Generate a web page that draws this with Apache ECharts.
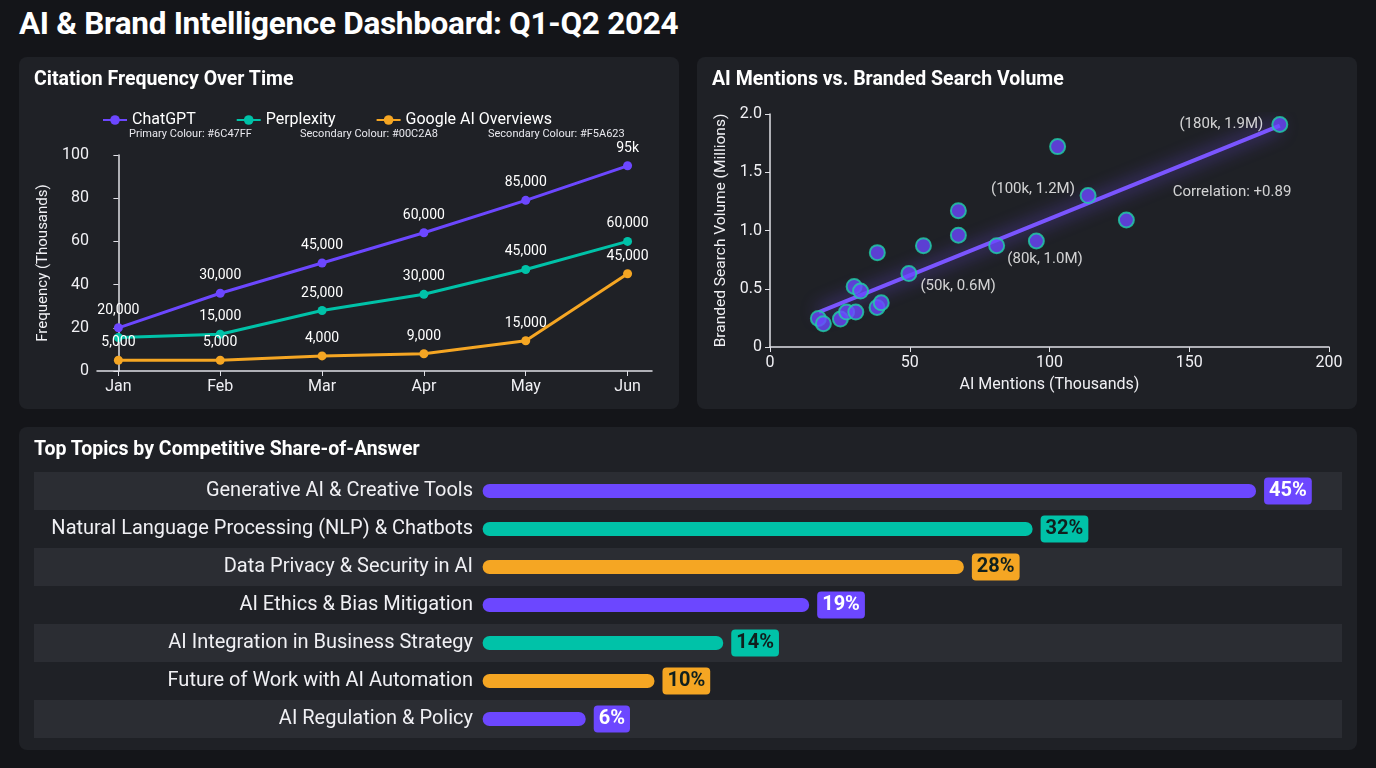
<!DOCTYPE html>
<html>
<head>
<meta charset="utf-8">
<script src="https://cdn.jsdelivr.net/npm/echarts@6/dist/echarts.min.js"></script>
<style>
  body { margin:0; width:1376px; height:768px; background:#141519; font-family:Roboto, sans-serif; color:#fff; position:relative; overflow:hidden; }
  h1 { position:absolute; left:19px; top:5px; margin:0; font-size:31.5px; font-weight:700; letter-spacing:-0.3px; }
  .panel { position:absolute; background:#1f2126; border-radius:8px; }
  .ptitle { position:absolute; left:15px; top:10px; font-size:19.5px; font-weight:700; z-index:2; }
  .chart { position:absolute; left:0; top:0; width:100%; height:100%; }
  .sub { position:absolute; font-size:11px; color:#e8e8ee; z-index:2; }
</style>
</head>
<body>
<h1>AI &amp; Brand Intelligence Dashboard: Q1-Q2 2024</h1>
<div class="panel" style="left:19px;top:57px;width:660px;height:352px;">
  <div class="ptitle">Citation Frequency Over Time</div>
  <div class="sub" style="left:110px;top:70px;">Primary Colour: #6C47FF</div>
  <div class="sub" style="left:281px;top:70px;">Secondary Colour: #00C2A8</div>
  <div class="sub" style="left:469px;top:70px;">Secondary Colour: #F5A623</div>
  <div id="lineChart" class="chart"></div>
</div>
<div class="panel" style="left:697px;top:57px;width:660px;height:352px;">
  <div class="ptitle">AI Mentions vs. Branded Search Volume</div>
  <div id="scatterChart" class="chart"></div>
</div>
<div class="panel" style="left:19px;top:427px;width:1338px;height:323px;">
  <div class="ptitle">Top Topics by Competitive Share-of-Answer</div>
  <div id="barChart" class="chart"></div>
</div>
<script>
// 折线图数据
var months = ['Jan', 'Feb', 'Mar', 'Apr', 'May', 'Jun'];
var chatgptValues = [20, 36, 50, 64, 79, 95];
var perplexityValues = [15.5, 17, 28, 35.5, 47, 60];
var googleValues = [5, 5, 7, 8, 14, 45];
var chatgptLabels = ['20,000', '30,000', '45,000', '60,000', '85,000', '95k'];
var perplexityLabels = ['', '15,000', '25,000', '30,000', '45,000', '60,000'];
var googleLabels = ['5,000', '5,000', '4,000', '9,000', '15,000', '45,000'];

// 散点图数据
var scatterPoints = [
  [17.3, 0.245], [19.1, 0.20], [25.2, 0.24], [27.4, 0.30], [30.7, 0.30],
  [30.1, 0.52], [32.4, 0.48], [38.3, 0.34], [39.8, 0.38], [38.4, 0.81],
  [49.7, 0.63], [54.9, 0.87], [67.4, 1.17], [67.4, 0.96], [81.1, 0.87],
  [95.3, 0.91], [102.9, 1.72], [113.8, 1.30], [127.5, 1.09], [182.4, 1.91]
];
var trendLine = [[17.5, 0.30], [182.4, 1.90]];
var annotations = [
  [161.5, 1.91, '(180k, 1.9M)'],
  [94.1, 1.35, '(100k, 1.2M)'],
  [98.4, 0.75, '(80k, 1.0M)'],
  [67.3, 0.52, '(50k, 0.6M)'],
  [165.3, 1.33, 'Correlation: +0.89']
];

// 条形图数据
var topics = [
  'Generative AI & Creative Tools',
  'Natural Language Processing (NLP) & Chatbots',
  'Data Privacy & Security in AI',
  'AI Ethics & Bias Mitigation',
  'AI Integration in Business Strategy',
  'Future of Work with AI Automation',
  'AI Regulation & Policy'
];
var shares = [45, 32, 28, 19, 14, 10, 6];

var PURPLE = '#6C47FF', TEAL = '#00C2A8', ORANGE = '#F5A623';
var axisText = { color: '#f0f0f4', fontSize: 16, fontFamily: 'Roboto' };

function lineSeries(name, values, labels, color) {
    return {
        name: name,
        type: 'line',
        data: values.map(function (v, i) {
            return { value: [i, v], label: { formatter: labels[i] } };
        }),
        symbol: 'circle',
        symbolSize: 9,
        itemStyle: { color: color },
        lineStyle: { width: 3, color: color },
        label: { show: true, position: 'top', color: '#fff', fontSize: 14, distance: 6 }
    };
}

var lineChart = echarts.init(document.getElementById('lineChart'));
lineChart.setOption({
    textStyle: { fontFamily: 'Roboto' },
    legend: {
        top: 50, left: 78, itemGap: 40, itemWidth: 24, itemHeight: 12,
        textStyle: { color: '#fff', fontSize: 16 },
        data: ['ChatGPT', 'Perplexity', 'Google AI Overviews']
    },
    grid: { left: 78, right: 27, top: 98, bottom: 38 },
    xAxis: {
        type: 'value', min: -0.21, max: 5.24,
        splitLine: { show: false },
        axisLine: { show: true, lineStyle: { color: '#e0e0e6', width: 1.5 } },
        axisTick: { show: true, customValues: [0, 1, 2, 3, 4, 5], lineStyle: { color: '#e0e0e6' } },
        axisLabel: Object.assign({ customValues: [0, 1, 2, 3, 4, 5], formatter: function (v) { return months[Math.round(v)]; } }, axisText)
    },
    yAxis: {
        type: 'value', min: 0, max: 100, interval: 20,
        name: 'Frequency (Thousands)', nameLocation: 'middle', nameGap: 44,
        nameTextStyle: { color: '#f0f0f4', fontSize: 15 },
        splitLine: { show: false },
        axisLine: { show: true, lineStyle: { color: '#e0e0e6', width: 1.5 } },
        axisTick: { show: true, lineStyle: { color: '#e0e0e6' } },
        axisLabel: axisText
    },
    series: [
        lineSeries('ChatGPT', chatgptValues, chatgptLabels, PURPLE),
        lineSeries('Perplexity', perplexityValues, perplexityLabels, TEAL),
        lineSeries('Google AI Overviews', googleValues, googleLabels, ORANGE)
    ]
});

var scatterChart = echarts.init(document.getElementById('scatterChart'));
scatterChart.setOption({
    textStyle: { fontFamily: 'Roboto' },
    grid: { left: 73, right: 28, top: 57, bottom: 62 },
    xAxis: {
        type: 'value', min: 0, max: 200, interval: 50,
        name: 'AI Mentions (Thousands)', nameLocation: 'middle', nameGap: 30,
        nameTextStyle: { color: '#f0f0f4', fontSize: 16 },
        splitLine: { show: false },
        axisLine: { lineStyle: { color: '#e0e0e6', width: 1.5 } },
        axisTick: { show: true, lineStyle: { color: '#e0e0e6' } },
        axisLabel: axisText
    },
    yAxis: {
        type: 'value', min: 0, max: 2, interval: 0.5,
        name: 'Branded Search Volume (Millions)', nameLocation: 'middle', nameGap: 38,
        nameTextStyle: { color: '#f0f0f4', fontSize: 15.5 },
        splitLine: { show: false },
        axisLine: { show: true, lineStyle: { color: '#e0e0e6', width: 1.5 } },
        axisTick: { show: true, lineStyle: { color: '#e0e0e6' } },
        axisLabel: Object.assign({ formatter: function (v) { return v === 0 ? '0' : v.toFixed(1); } }, axisText)
    },
    series: [
        {
            type: 'line', data: trendLine, symbol: 'none', z: 1,
            lineStyle: { color: '#7a55ff', width: 4, shadowColor: 'rgba(120,80,255,0.9)', shadowBlur: 18 }
        },
        {
            type: 'scatter', data: scatterPoints, symbolSize: 15, z: 3,
            itemStyle: { color: '#6C47FF', borderColor: '#1fd1a8', borderWidth: 2 }
        },
        {
            type: 'scatter', z: 4, symbolSize: 1, itemStyle: { color: 'transparent' },
            data: annotations.map(function (a) { return { value: [a[0], a[1]], label: { formatter: a[2] } }; }),
            label: { show: true, position: 'inside', color: '#fff', fontSize: 15 }
        }
    ]
});

var barColors = [PURPLE, TEAL, ORANGE];
var barChart = echarts.init(document.getElementById('barChart'));
barChart.setOption({
    textStyle: { fontFamily: 'Roboto' },
    grid: { left: 15, right: 15, top: 45, bottom: 12 },
    xAxis: { type: 'value', min: -26.1, max: 50, show: false },
    yAxis: {
        type: 'category', data: topics, inverse: true,
        axisLine: { show: false }, axisTick: { show: false },
        splitArea: { show: true, areaStyle: { color: ['#2b2d33', 'rgba(0,0,0,0)'] } },
        axisLabel: { margin: -439, align: 'right', color: '#f0f0f4', fontSize: 20 }
    },
    series: [{
        type: 'bar', barWidth: 14,
        data: shares.map(function (v, i) {
            var c = barColors[i % 3];
            return {
                value: v,
                itemStyle: { color: c, borderRadius: 7 },
                label: { backgroundColor: c, color: c === PURPLE ? '#fff' : '#10201e' }
            };
        }),
        label: {
            show: true, position: 'right', distance: 8, formatter: '{c}%',
            fontSize: 20, fontWeight: 'bold', padding: [4, 5, 3, 5], borderRadius: 4
        }
    }]
});
</script>
</body>
</html>
